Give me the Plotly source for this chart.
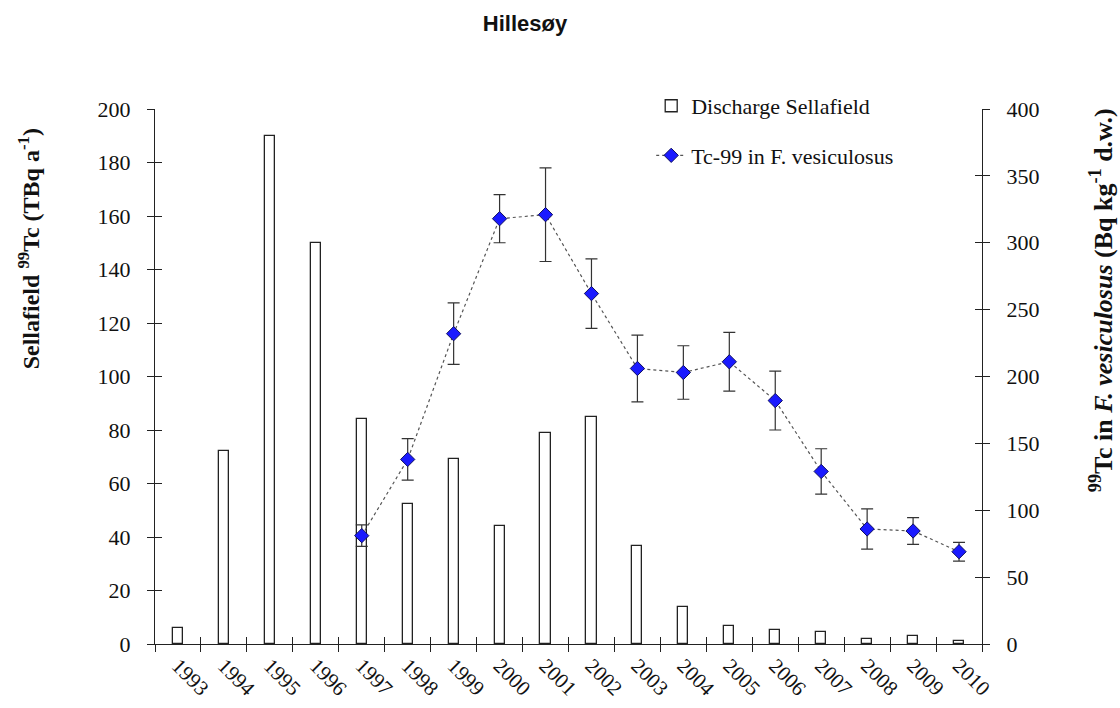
import plotly.graph_objects as go

# Annual 99Tc discharges from Sellafield (TBq/a)
years = [str(y) for y in range(1993, 2011)]
discharge = [6, 72, 190, 150, 84, 52.5, 69, 44, 79, 85, 36.7, 14, 6.6, 5.2, 4.6, 1.9, 2.9, 1.0]

# 99Tc in Fucus vesiculosus at Hillesøy (Bq/kg d.w.), 1997-2010
fucus_years = [str(y) for y in range(1997, 2011)]
fucus_tc = [81, 138, 232, 318, 321, 262, 206, 203, 211, 182, 129, 86, 84.5, 69]
fucus_err = [8, 15.5, 23, 18, 35, 26, 25, 20, 22, 22, 17, 15, 10, 7]

left_ticks = list(range(0, 201, 20))
right_ticks = list(range(0, 401, 50))

SERIF = "Liberation Serif"
AXIS_COLOR = "#222222"

fig = go.Figure()

fig.add_trace(go.Bar(
    x=years, y=discharge, name="Discharge Sellafield",
    marker=dict(color="white", line=dict(color=AXIS_COLOR, width=1.3)),
    width=0.22, xaxis="x", yaxis="y", legendgroup="a",
))

fig.add_trace(go.Scatter(
    x=fucus_years, y=fucus_tc, name="Tc-99 in F. vesiculosus",
    mode="lines+markers",
    line=dict(color="#555555", width=1.2, dash="dot"),
    marker=dict(symbol="diamond", size=11, color="#1a1aff",
                line=dict(color="#101060", width=1)),
    error_y=dict(type="data", array=fucus_err, visible=True,
                 color="#333333", thickness=1.2, width=6),
    xaxis="x", yaxis="y2", legendgroup="b",
))

# empty helpers so the inner half of each tick mark is drawn
for xa, ya in [("x3", "y"), ("x", "y3"), ("x", "y4")]:
    fig.add_trace(go.Scatter(x=[], y=[], xaxis=xa, yaxis=ya, showlegend=False,
                             hoverinfo="skip"))

tick_font = dict(family=SERIF, size=22, color="#111111")

fig.update_layout(
    width=1120, height=708,
    margin=dict(l=155, r=138, t=109, b=64, autoexpand=False),
    paper_bgcolor="white", plot_bgcolor="white",
    bargap=0,
    title=dict(text="<b>Hillesøy</b>", x=525 / 1120, xanchor="center",
               y=1 - 23 / 708, yanchor="middle",
               font=dict(family="Liberation Sans", size=22, color="#111111")),
    xaxis=dict(
        type="category", categoryorder="array", categoryarray=years,
        range=[-0.5, 17.5], tickson="boundaries", ticks="outside", ticklen=7,
        tickcolor=AXIS_COLOR, tickwidth=1.2, tickangle=45, automargin=False,
        showline=True, linecolor=AXIS_COLOR, linewidth=1.2,
        showgrid=False, zeroline=False,
        tickfont=dict(family=SERIF, size=21, color="#111111"),
    ),
    xaxis3=dict(
        overlaying="x", anchor="y", range=[-0.5, 17.5], tick0=-0.5, dtick=1,
        ticks="inside", ticklen=7, tickcolor=AXIS_COLOR, tickwidth=1.2,
        showticklabels=False, showline=False, showgrid=False, zeroline=False,
    ),
    yaxis=dict(
        range=[0, 200], tickvals=left_ticks, ticks="outside", ticklen=7,
        tickcolor=AXIS_COLOR, tickwidth=1.2, showline=True, linecolor=AXIS_COLOR,
        linewidth=1.2, showgrid=False, zeroline=False, tickfont=tick_font,
        ticklabelstandoff=12, automargin=False,
    ),
    yaxis3=dict(
        overlaying="y", anchor="x", side="left", range=[0, 200], tickvals=left_ticks,
        ticks="inside", ticklen=7, tickcolor=AXIS_COLOR, tickwidth=1.2,
        showticklabels=False, showline=False, showgrid=False, zeroline=False,
    ),
    yaxis2=dict(
        overlaying="y", anchor="x", side="right", range=[0, 400], tickvals=right_ticks,
        ticks="outside", ticklen=7, tickcolor=AXIS_COLOR, tickwidth=1.2,
        showline=True, linecolor=AXIS_COLOR, linewidth=1.2, showgrid=False,
        zeroline=False, tickfont=tick_font, ticklabelstandoff=12, automargin=False,
    ),
    yaxis4=dict(
        overlaying="y", anchor="x", side="right", range=[0, 400], tickvals=right_ticks,
        ticks="inside", ticklen=7, tickcolor=AXIS_COLOR, tickwidth=1.2,
        showticklabels=False, showline=False, showgrid=False, zeroline=False,
    ),
    legend=dict(
        x=0.6, y=1.045, xanchor="left", yanchor="top",
        font=dict(family=SERIF, size=22, color="#111111"),
        bgcolor="rgba(0,0,0,0)", traceorder="grouped", tracegroupgap=18,
    ),
    showlegend=True,
    annotations=[
        dict(text="<b>Sellafield <sup>99</sup>Tc (TBq a<sup>-1</sup>)</b>",
             xref="paper", yref="paper", x=-0.152, y=(644 - 249) / 535,
             xanchor="center", yanchor="middle", textangle=-90, showarrow=False,
             font=dict(family=SERIF, size=24, color="#111111")),
        dict(text="<b><sup>99</sup>Tc in <i>F. vesiculosus</i> (Bq kg<sup>-1</sup> d.w.)</b>",
             xref="paper", yref="paper", x=(1100 - 155) / 826, y=(644 - 300) / 535,
             xanchor="center", yanchor="middle", textangle=-90, showarrow=False,
             font=dict(family=SERIF, size=26, color="#111111")),
    ],
)

fig.write_html("out.html")
